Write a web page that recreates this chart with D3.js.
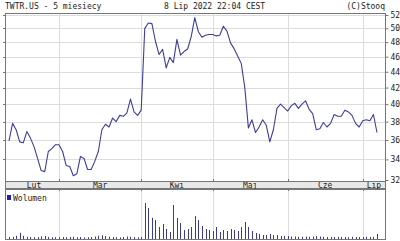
<!DOCTYPE html>
<html>
<head>
<meta charset="utf-8">
<script src="https://cdn.jsdelivr.net/npm/d3@7"></script>
<style>
  body { margin: 0; background: #fff; }
  text { font-family: "DejaVu Sans Mono", monospace; font-size: 8px; fill: #222; }
</style>
</head>
<body>
<div id="chart"></div>
<script>
// TWTR.US daily closes, 8 Feb - 8 Jul 2022 (trading days)
const closes = [
  35.9, 37.8, 37.1, 35.8, 35.7, 36.9, 36.2, 35.3, 34.1, 32.9, 32.8, 34.8, 35.1, 35.5,
  35.5, 34.8, 33.4, 33.3, 32.4, 32.6, 34.3, 34.1, 33.0, 33.0, 33.8, 34.8, 37.1, 37.7,
  37.4, 38.4, 38.0, 38.7, 38.6, 39.0, 40.6, 39.1, 38.7,
  39.3,
  50.0, 50.8, 50.7, 48.1, 46.3, 47.0, 44.5, 45.9, 45.2, 48.4, 46.2, 46.7, 47.05, 48.8,
  51.6, 49.5, 48.7, 49.0, 49.1,
  49.1, 48.9, 49.0, 50.3, 49.6, 47.9, 47.1, 46.1, 45.1, 42.0,
  37.3, 38.2, 36.8, 37.4, 38.2, 37.6, 35.8, 37.1, 39.5, 40.0, 39.6, 39.2, 39.8, 40.1,
  39.5, 40.0, 40.4, 39.4, 38.9, 37.1, 37.2, 37.9, 37.4, 37.8, 38.8, 38.6, 38.6, 39.3,
  39.1, 38.7, 37.8, 37.4, 38.1, 38.2, 38.1, 38.8, 36.8
];
// volume, millions of shares
const volumes = [
  16, 18, 26, 50, 26, 18, 16, 14, 16, 20, 24, 16, 14, 14,
  14, 16, 14, 16, 18, 14, 16, 13, 14, 16, 20, 26, 30, 24, 18, 16, 14, 13, 16, 20, 18, 15, 14,
  16,
  288, 248, 170, 152, 96, 120, 80, 56, 272, 168, 128, 72, 80, 96, 184, 152,
  104, 80, 72, 64, 96, 56, 72, 64, 80, 72, 64, 96, 136,
  96, 64, 48, 40, 32, 32, 40, 32, 32, 24, 24, 24, 20, 20, 18, 18, 20, 18, 18, 24, 20, 18,
  16, 16, 16, 18, 16, 16, 14, 18, 16, 16, 16, 18, 16, 18, 40
];
const monthNames = ['Lut', 'Mar', 'Kwi', 'Maj', 'Cze', 'Lip'];
const monthStarts = [0, 14, 37, 57, 78, 99];   // index of first session of each month
const priceTicks = [32, 34, 36, 38, 40, 42, 44, 46, 48, 50, 52];
const titleLeft = 'TWTR.US - 5 miesiecy';
const titleMid = '8 Lip 2022 22:04 CEST';
const titleRight = '(C)Stooq';

const W = 400, H = 241;
const L = 5, R = 385;
const pTop = 13, pBot = 181;        // price panel
const sBot = 188;                  // month strip
const vTop = 189, vBot = 239;      // volume panel
const lineCol = '#3d3d9e', barCol = '#3a3a9c', gridCol = '#dcdcdc', frameCol = '#777';

const svg = d3.select('#chart').append('svg').attr('width', W).attr('height', H);

const x = d3.scaleLinear().domain([0, closes.length - 1]).range([9, 377]);
const y = d3.scaleLog().domain([32, 52]).range([180, 15]);
const yV = d3.scaleLinear().domain([0, 400]).range([vBot, vTop]);

const gridX = monthStarts.slice(1).map(i => Math.round(x(i)) + 0.5);

// titles
svg.append('text').attr('x', L).attr('y', 9).text(titleLeft);
svg.append('text').attr('x', 164).attr('y', 9).text(titleMid);
svg.append('text').attr('x', R).attr('y', 9).attr('text-anchor', 'end').text(titleRight);

// price grid
svg.append('g').selectAll('line').data(priceTicks.filter(d => d > 32)).enter().append('line')
  .attr('x1', L).attr('x2', R).attr('y1', d => Math.round(y(d)) + 0.5).attr('y2', d => Math.round(y(d)) + 0.5)
  .style('stroke', gridCol);
svg.append('g').selectAll('line').data(gridX).enter().append('line')
  .attr('x1', d => d).attr('x2', d => d).attr('y1', pTop).attr('y2', pBot).style('stroke', gridCol);
svg.append('g').selectAll('line').data(gridX).enter().append('line')
  .attr('x1', d => d).attr('x2', d => d).attr('y1', vTop).attr('y2', vBot).style('stroke', gridCol);

// right price axis
const yAxis = d3.axisRight(y).tickValues(priceTicks).tickSize(3).tickPadding(2).tickFormat(d3.format('d'));
const ya = svg.append('g').attr('transform', `translate(${R + 0.5},0)`).call(yAxis);
ya.select('.domain').remove();
ya.selectAll('line').style('stroke', frameCol);
ya.selectAll('text').style('font-size', '8px').style('font-family', '"DejaVu Sans Mono", monospace').style('fill', '#222');

// left ticks
svg.append('g').selectAll('line').data(priceTicks.filter(d => d > 32)).enter().append('line')
  .attr('x1', L - 2).attr('x2', L).attr('y1', d => Math.round(y(d)) + 0.5).attr('y2', d => Math.round(y(d)) + 0.5)
  .style('stroke', frameCol);

// price line
const line = d3.line().x((d, i) => x(i)).y(d => y(d));
svg.append('path').datum(closes).attr('d', line)
  .style('fill', 'none').style('stroke', lineCol).style('stroke-width', 1.1).style('stroke-linejoin', 'round');

// month strip
svg.append('rect').attr('x', L + 0.5).attr('y', pBot + 0.5).attr('width', R - L).attr('height', sBot - pBot)
  .style('fill', '#e8e8e8').style('stroke', frameCol);
svg.append('g').selectAll('line').data(gridX).enter().append('line')
  .attr('x1', d => d).attr('x2', d => d).attr('y1', pBot - 2).attr('y2', pBot + 1).style('stroke', frameCol);
svg.append('g').selectAll('line').data(gridX).enter().append('line')
  .attr('x1', d => d).attr('x2', d => d).attr('y1', sBot).attr('y2', sBot + 3).style('stroke', frameCol);
const edges = monthStarts.map(i => x(i)).concat([R]);
svg.append('g').selectAll('text').data(monthNames).enter().append('text')
  .attr('x', (d, i) => (edges[i] + edges[i + 1]) / 2).attr('y', sBot - 0.5)
  .attr('text-anchor', 'middle').text(d => d);

// volume bars
svg.append('g').selectAll('rect').data(volumes).enter().append('rect')
  .attr('x', (d, i) => Math.round(x(i))).attr('width', 1)
  .attr('y', d => yV(d)).attr('height', d => vBot - yV(d))
  .style('fill', barCol);

// legend
svg.append('rect').attr('x', 7).attr('y', 195).attr('width', 4).attr('height', 5).style('fill', '#2020a8');
svg.append('text').attr('x', 13).attr('y', 200.5).text('Wolumen');

// frames
svg.append('rect').attr('x', L + 0.5).attr('y', pTop + 0.5).attr('width', R - L).attr('height', pBot - pTop)
  .style('fill', 'none').style('stroke', frameCol);
svg.append('rect').attr('x', L + 0.5).attr('y', vTop + 0.5).attr('width', R - L).attr('height', vBot - vTop)
  .style('fill', 'none').style('stroke', frameCol);
</script>
</body>
</html>
